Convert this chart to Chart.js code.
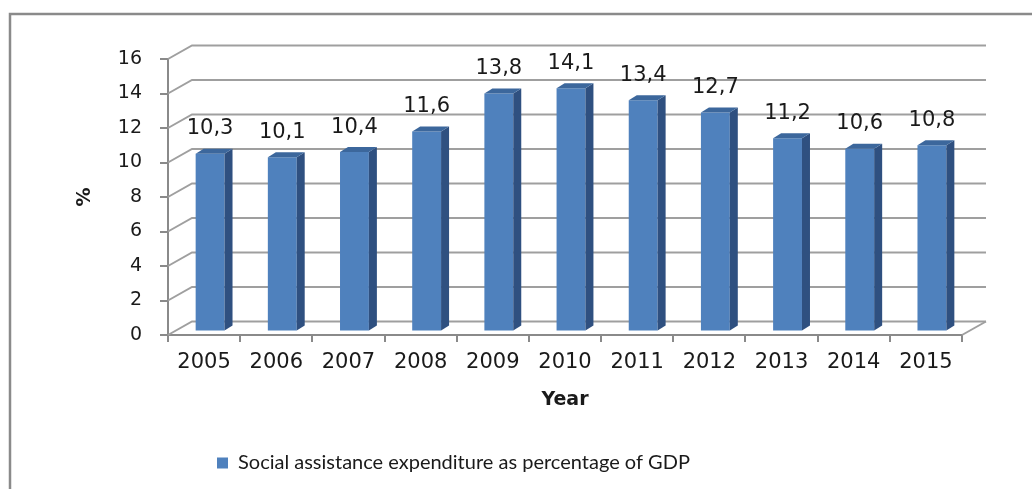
<!DOCTYPE html>
<html>
<head>
<meta charset="utf-8">
<script src="https://cdn.jsdelivr.net/npm/chart.js@4.4.0/dist/chart.umd.min.js"></script>
<style>
  html, body { margin: 0; padding: 0; background: #fff; }
  #wrap { width: 1032px; height: 489px; position: relative; }
</style>
</head>
<body>
<div id="wrap"><canvas id="chart"></canvas></div>
<script>
// ===== data =====
const years = ['2005', '2006', '2007', '2008', '2009', '2010', '2011', '2012', '2013', '2014', '2015'];
const values = [10.3, 10.1, 10.4, 11.6, 13.8, 14.1, 13.4, 12.7, 11.2, 10.6, 10.8];
const seriesName = 'Social assistance expenditure as percentage of GDP';
const yMin = 0, yMax = 16, yStep = 2;

// ===== look =====
const barFront = '#4f81bd', barSide = '#2f5080', barTop = '#3c679c';
const gridColor = '#9f9f9f', axisColor = '#8a8a8a', textColor = '#1a1a1a';
const wallDX = 24, wallDY = -13.5;   // depth of the back wall
const barDX = 6, barDY = -3.5;       // bars sit a bit into the depth
const sideDX = 8, sideDY = -5;       // depth of each bar

Chart.defaults.font.family = "'DejaVu Sans', Verdana, sans-serif";
Chart.defaults.color = textColor;

// gridlines on the back wall + left wall diagonals + floor edge
const walls = {
  id: 'walls',
  beforeDraw(chart) {
    const ctx = chart.ctx;
    ctx.save();
    ctx.strokeStyle = '#8a8a8a';
    ctx.lineWidth = 2.5;
    ctx.beginPath();
    ctx.moveTo(10, 489);
    ctx.lineTo(10, 14);
    ctx.lineTo(1032, 14);
    ctx.stroke();
    ctx.restore();
  },
  afterLayout(chart) {
    // legend sits left of centre like in the excel export
    const lg = chart.legend;
    const w = lg.right - lg.left;
    lg.left = 207;
    lg.right = lg.left + w;
    lg.top = 443;
    lg.bottom = lg.top + lg.height;
  },
  beforeDatasetsDraw(chart) {
    const ctx = chart.ctx;
    const ys = chart.scales.y;
    const {left, right, bottom} = chart.chartArea;
    ctx.save();
    ctx.strokeStyle = gridColor;
    ctx.lineWidth = 2;
    ys.ticks.forEach(t => {
      const py = ys.getPixelForValue(t.value);
      ctx.beginPath();
      ctx.moveTo(left, py);
      ctx.lineTo(left + wallDX, py + wallDY);
      ctx.lineTo(right + wallDX, py + wallDY);
      ctx.stroke();
    });
    ctx.beginPath();
    ctx.moveTo(right, bottom);
    ctx.lineTo(right + wallDX, bottom + wallDY);
    ctx.stroke();
    ctx.restore();

    // shift the bar fronts into the depth
    ctx.save();
    ctx.translate(barDX, barDY);
  },
  afterDatasetsDraw(chart) {
    const ctx = chart.ctx;
    const meta = chart.getDatasetMeta(0);
    meta.data.forEach((bar, i) => {
      const l = bar.x - bar.width / 2, r = bar.x + bar.width / 2;
      const top = bar.y, base = bar.base;
      // side
      ctx.fillStyle = barSide;
      ctx.beginPath();
      ctx.moveTo(r, top);
      ctx.lineTo(r + sideDX, top + sideDY);
      ctx.lineTo(r + sideDX, base + sideDY);
      ctx.lineTo(r, base);
      ctx.closePath();
      ctx.fill();
      // top
      ctx.fillStyle = barTop;
      ctx.beginPath();
      ctx.moveTo(l, top);
      ctx.lineTo(l + sideDX, top + sideDY);
      ctx.lineTo(r + sideDX, top + sideDY);
      ctx.lineTo(r, top);
      ctx.closePath();
      ctx.fill();
      // value label, decimal comma
      ctx.fillStyle = textColor;
      ctx.font = "21px 'DejaVu Sans'";
      ctx.textAlign = 'center';
      ctx.textBaseline = 'middle';
      ctx.fillText(values[i].toFixed(1).replace('.', ','), bar.x, top - 25);
    });
    ctx.restore();
  }
};

new Chart(document.getElementById('chart'), {
  type: 'bar',
  data: {
    labels: years,
    datasets: [{
      label: seriesName,
      data: values,
      backgroundColor: barFront,
      borderWidth: 0,
      barPercentage: 0.4,
      categoryPercentage: 1,
      clip: false
    }]
  },
  options: {
    responsive: true,
    maintainAspectRatio: false,
    animation: false,
    events: [],
    layout: { padding: { left: 60, right: 70, top: 59, bottom: 34 } },
    scales: {
      x: {
        grid: { offset: true, drawOnChartArea: false, tickLength: 7, color: axisColor, lineWidth: 2 },
        border: { display: true, color: axisColor, width: 2 },
        ticks: { font: { size: 21 }, padding: 8, maxRotation: 0 },
        title: { display: true, text: 'Year', font: { size: 19, weight: 'bold' }, padding: { top: 0, bottom: 4 } },
        afterFit(scale) { scale.height = 80; }
      },
      y: {
        min: yMin,
        max: yMax,
        ticks: { stepSize: yStep, font: { size: 19 }, padding: 18 },
        grid: { drawOnChartArea: false, tickLength: 8, color: axisColor, lineWidth: 2 },
        border: { display: true, color: axisColor, width: 2 },
        title: { display: true, text: '%', font: { size: 19, weight: 'bold' }, padding: { top: 14, bottom: 0 } },
        afterFit(scale) { scale.width = 108; }
      }
    },
    plugins: {
      legend: {
        position: 'bottom',
        align: 'start',
        labels: {
          boxWidth: 11,
          boxHeight: 11,
          padding: 10,
          font: { family: 'Lato', size: 20 },
          color: textColor
        }
      },
      tooltip: { enabled: false }
    }
  },
  plugins: [walls]
});
</script>
</body>
</html>
